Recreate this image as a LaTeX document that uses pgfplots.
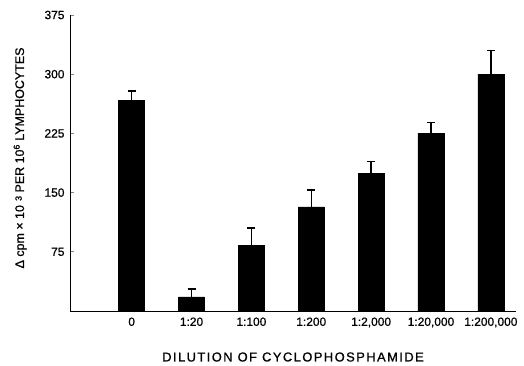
\documentclass[border=0pt]{standalone}
\usepackage{fontspec}
\setmainfont{Liberation Sans}[FakeBold=0.8]
\usepackage{pgfplots}
\pgfplotsset{compat=1.18}
\begin{document}
\begin{tikzpicture}
\begin{axis}[
  scale only axis,
  width=446bp, height=296bp,
  xmin=-1.03, xmax=6.42,
  ymin=0, ymax=375,
  axis x line=bottom, axis y line=left,
  axis line style={-, line width=0.9pt},
  ytick={75,150,225,300,375},
  xtick={0,1,2,3,4,5,6},
  xticklabels={0,1:20,1:100,1:200,{1:2,000},{1:20,000},{1:200,000}},
  xtick style={draw=none},
  ytick style={line width=0.9pt},
  tick align=inside,
  major tick length=4bp,
  /pgf/number format/assume math mode=true,
  tick label style={font=\fontsize{12}{14}\selectfont},
  xticklabel style={yshift=-3bp},
  yticklabel style={xshift=-2bp},
  xlabel={DILUTION OF CYCLOPHOSPHAMIDE},
  ylabel={Δ cpm × 10\,\,\raisebox{0.35ex}{\small 3} PER 10\textsuperscript{6} LYMPHOCYTES},
  xlabel style={font=\fontsize{13}{15}\selectfont\addfontfeature{LetterSpace=11}, at={(axis description cs:0.5,0)}, anchor=center, yshift=-46bp},
  ylabel style={font=\fontsize{12.5}{14}\selectfont, at={(axis description cs:-0.112,0.517)}, anchor=center},
  clip=false,
]
\addplot[ybar, bar width=26bp, fill=black, draw=black,
  error bars/.cd, y dir=plus, y explicit,
  error bar style={line width=1.3pt},
  error mark options={rotate=90, mark size=4bp, line width=1.5pt}]
  table[x=x, y=y, y error=e] {
x y e
0 267 12
1 18 10
2 83 22
3 132 21
4 174.5 15
5 225 13.5
6 300 30
};
\end{axis}
\pgfresetboundingbox
\useasboundingbox (current axis.south west) ++(-70bp,-55bp) rectangle ++(524bp,366bp);
\end{tikzpicture}
\end{document}
